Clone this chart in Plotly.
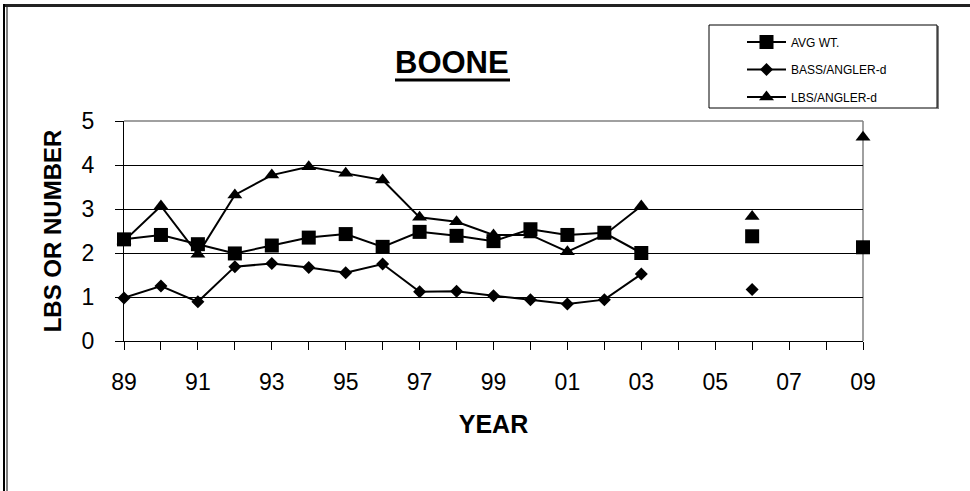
import plotly.graph_objects as go

# ---- data ----
years = list(range(1989, 2010))
avg_wt = [2.31, 2.41, 2.20, 1.99, 2.17, 2.35, 2.43, 2.14, 2.48, 2.39, 2.27, 2.54, 2.41, 2.46, 2.00,
          None, None, 2.38, None, None, 2.13]
bass_angler = [0.98, 1.25, 0.89, 1.69, 1.76, 1.67, 1.55, 1.75, 1.12, 1.13, 1.03, 0.94, 0.84, 0.94, 1.52,
               None, None, 1.17, None, None, None]
lbs_angler = [2.27, 3.07, 1.97, 3.32, 3.77, 3.96, 3.81, 3.66, 2.81, 2.71, 2.41, 2.41, 2.03, 2.41, 3.07,
              None, None, 2.83, None, None, 4.63]
tick_vals = [1989, 1991, 1993, 1995, 1997, 1999, 2001, 2003, 2005, 2007, 2009]
tick_text = ["89", "91", "93", "95", "97", "99", "01", "03", "05", "07", "09"]
y_ticks = [0, 1, 2, 3, 4, 5]

W, H = 970, 491
PL, PR, PT, PB = 124, 863, 121, 341


def fx(px):
    return (px - PL) / (PR - PL)


def fy(py):
    return (PB - py) / (PB - PT)


FONT = "Arial, 'Liberation Sans', sans-serif"

fig = go.Figure()
series = [
    ("AVG WT.", avg_wt, "square", 14),
    ("BASS/ANGLER-d", bass_angler, "diamond", 10),
    ("LBS/ANGLER-d", lbs_angler, "triangle-up", 13),
]
for name, vals, sym, size in series:
    fig.add_trace(go.Scatter(
        x=years, y=vals, name=name, mode="lines+markers",
        line=dict(color="black", width=2),
        marker=dict(symbol=sym, size=size, color="black"),
        connectgaps=False, cliponaxis=False, legendgroup=name,
    ))

shapes = [
    # plot area top and right border (grey)
    dict(type="line", xref="paper", yref="paper", x0=0, x1=1, y0=1, y1=1,
         line=dict(color="#808080", width=1.5), layer="between"),
    dict(type="line", xref="paper", yref="paper", x0=1, x1=1, y0=0, y1=1,
         line=dict(color="#808080", width=1.5), layer="between"),
    # outer frame: thick top line and double left line
    dict(type="line", xref="paper", yref="paper", x0=fx(3), x1=fx(970), y0=fy(5.5), y1=fy(5.5),
         line=dict(color="#222222", width=3)),
    dict(type="line", xref="paper", yref="paper", x0=fx(4), x1=fx(4), y0=fy(4), y1=fy(491),
         line=dict(color="black", width=2)),
    dict(type="line", xref="paper", yref="paper", x0=fx(7), x1=fx(7), y0=fy(7), y1=fy(491),
         line=dict(color="black", width=1)),
    # legend box
    dict(type="rect", xref="paper", yref="paper", x0=fx(709), x1=fx(937), y0=fy(25), y1=fy(108),
         line=dict(color="black", width=1), fillcolor="rgba(0,0,0,0)"),
    dict(type="line", xref="paper", yref="paper", x0=fx(938), x1=fx(938), y0=fy(26), y1=fy(109),
         line=dict(color="black", width=1)),
    # title underline
    dict(type="line", xref="paper", yref="paper", x0=fx(395), x1=fx(510), y0=fy(80), y1=fy(80),
         line=dict(color="black", width=3)),
]

fig.update_layout(
    width=W, height=H, autosize=False,
    margin=dict(l=PL, r=W - PR, t=PT, b=H - PB, pad=0),
    paper_bgcolor="white", plot_bgcolor="white",
    font=dict(family=FONT, color="black"),
    shapes=shapes,
    annotations=[dict(text="<b>BOONE</b>", xref="paper", yref="paper", x=fx(452), y=fy(63),
                      xanchor="center", yanchor="middle", showarrow=False,
                      font=dict(size=31, family=FONT, color="black"))],
    showlegend=True,
    legend=dict(x=fx(742), y=fy(27.5), xanchor="left", yanchor="top",
                bgcolor="rgba(0,0,0,0)", borderwidth=0,
                font=dict(size=12, family=FONT, color="black"),
                itemwidth=39, tracegroupgap=8.5, traceorder="grouped"),
    xaxis=dict(range=[1989, 2009], tickmode="array", tickvals=tick_vals, ticktext=tick_text,
               showgrid=False, zeroline=False, showline=True, linecolor="black", linewidth=1,
               ticks="outside", ticklen=8, tickcolor="black", tickwidth=1,
               minor=dict(dtick=1, tick0=1989, ticks="outside", ticklen=8, tickcolor="black",
                          tickwidth=1, showgrid=False),
               tickfont=dict(size=23, family=FONT, color="black"), ticklabelstandoff=12,
               title=dict(text="<b>YEAR</b>", font=dict(size=25, family=FONT, color="black"),
                          standoff=21)),
    yaxis=dict(range=[0, 5], tickmode="array", tickvals=y_ticks,
               showgrid=True, gridcolor="black", gridwidth=1, zeroline=False,
               showline=True, linecolor="black", linewidth=1,
               ticks="outside", ticklen=8, tickcolor="black", tickwidth=1,
               tickfont=dict(size=23, family=FONT, color="black"), ticklabelstandoff=16,
               title=dict(text="<b>LBS OR NUMBER</b>", font=dict(size=24, family=FONT, color="black"),
                          standoff=13)),
)

fig.write_html("out.html", config={"displayModeBar": False},
               post_script="document.body.style.margin='0px';")
